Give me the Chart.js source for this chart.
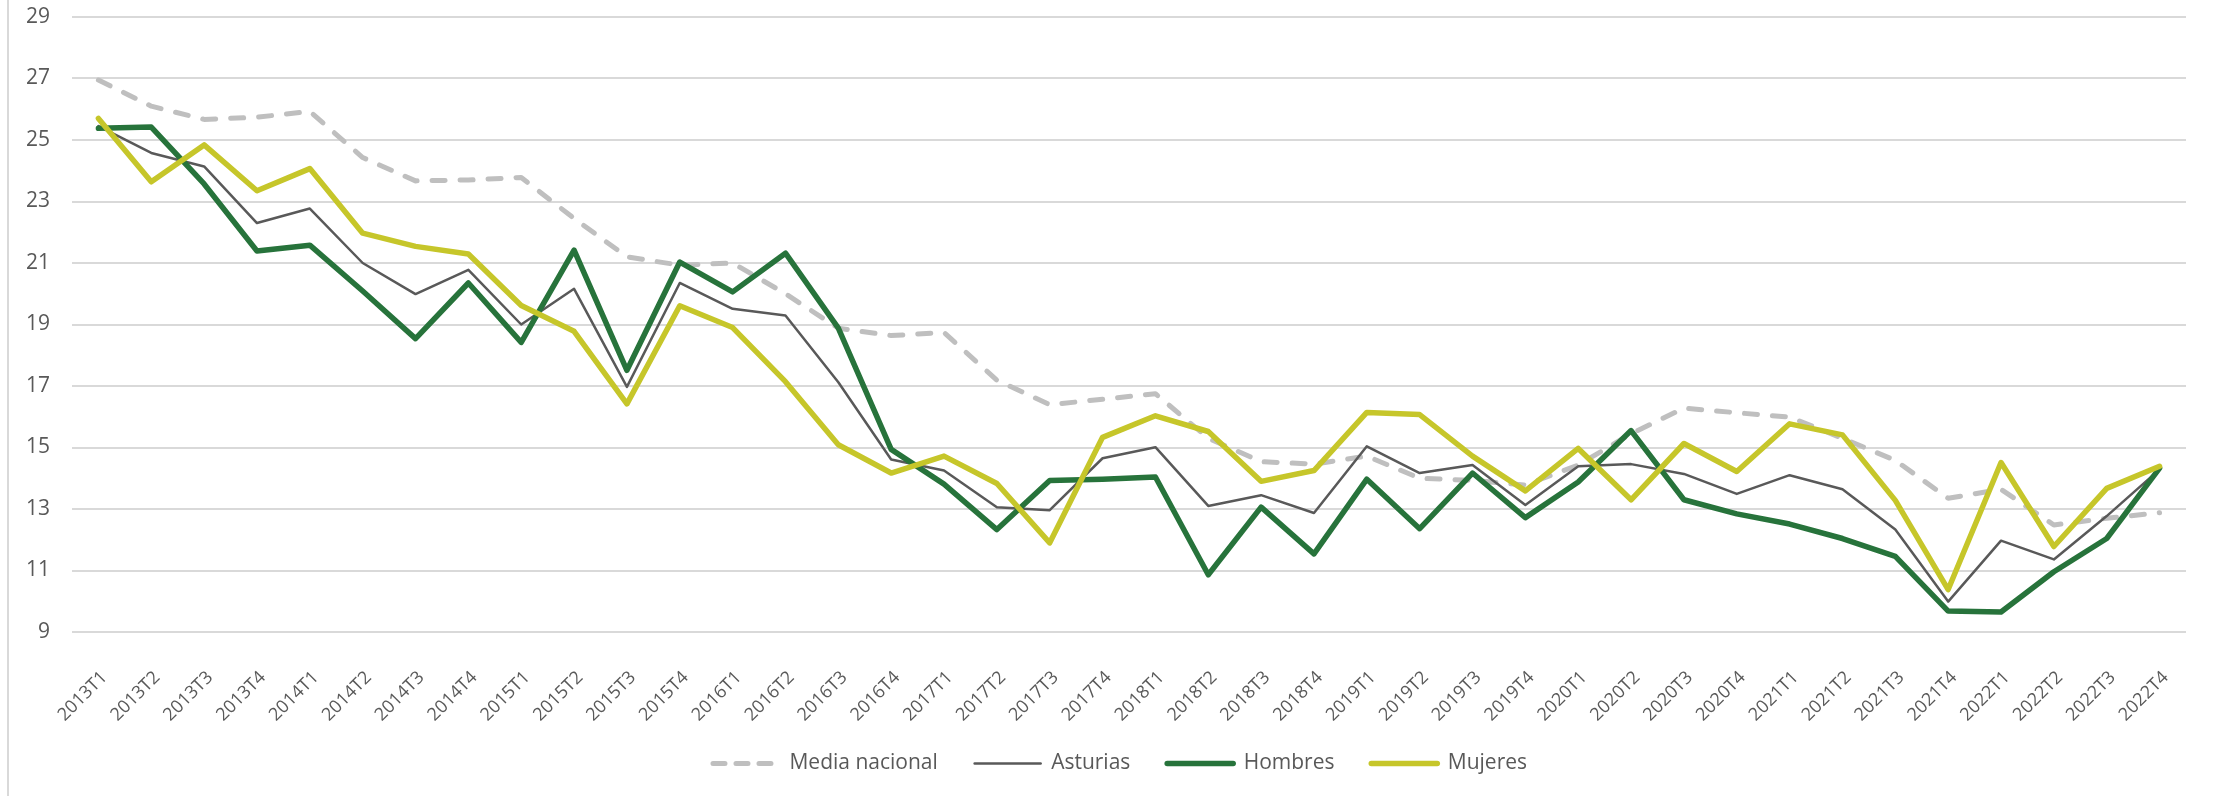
<!DOCTYPE html>
<html lang="es">
<head>
<meta charset="utf-8">
<title>Media nacional / Asturias / Hombres / Mujeres</title>
<script src="https://cdn.jsdelivr.net/npm/chart.js@4.4.1/dist/chart.umd.min.js"></script>
<style>
    html, body { margin: 0; padding: 0; background: #ffffff; }
    #wrap { position: relative; width: 2213px; height: 796px; }
    /* light frame line on the left, as in the original sheet */
    #wrap::before {
        content: ''; position: absolute; left: 7px; top: 0; bottom: 0;
        width: 2px; background: #d9d9d9;
    }
</style>
</head>
<body>
<div id="wrap"><canvas id="lineChart" width="2213" height="796"></canvas></div>
<script>
// Quarters on the x axis
const quarters = [
    '2013T1', '2013T2', '2013T3', '2013T4',
    '2014T1', '2014T2', '2014T3', '2014T4',
    '2015T1', '2015T2', '2015T3', '2015T4',
    '2016T1', '2016T2', '2016T3', '2016T4',
    '2017T1', '2017T2', '2017T3', '2017T4',
    '2018T1', '2018T2', '2018T3', '2018T4',
    '2019T1', '2019T2', '2019T3', '2019T4',
    '2020T1', '2020T2', '2020T3', '2020T4',
    '2021T1', '2021T2', '2021T3', '2021T4',
    '2022T1', '2022T2', '2022T3', '2022T4'
];

// Series values
const mediaNacional = [
    26.95, 26.10, 25.67, 25.74, 25.93, 24.43, 23.67, 23.70,
    23.78, 22.45, 21.20, 20.93, 21.00, 20.00, 18.88, 18.64,
    18.74, 17.19, 16.39, 16.57, 16.75, 15.30, 14.54, 14.46,
    14.72, 14.00, 13.93, 13.78, 14.43, 15.45, 16.28, 16.13,
    15.99, 15.30, 14.58, 13.35, 13.64, 12.48, 12.70, 12.88
];
const asturias = [
    25.45, 24.58, 24.14, 22.30, 22.77, 21.00, 19.99, 20.78,
    19.00, 20.16, 16.97, 20.35, 19.51, 19.29, 17.12, 14.61,
    14.25, 13.06, 12.96, 14.65, 15.01, 13.10, 13.45, 12.87,
    15.04, 14.17, 14.43, 13.13, 14.39, 14.46, 14.14, 13.49,
    14.10, 13.64, 12.33, 9.99, 11.97, 11.36, 12.77, 14.29
];
const hombres = [
    25.38, 25.42, 23.57, 21.39, 21.58, 20.09, 18.54, 20.35,
    18.42, 21.42, 17.51, 21.03, 20.06, 21.32, 18.88, 14.94,
    13.81, 12.33, 13.93, 13.97, 14.04, 10.86, 13.06, 11.54,
    13.97, 12.36, 14.17, 12.72, 13.88, 15.55, 13.30, 12.84,
    12.51, 12.04, 11.46, 9.68, 9.65, 10.96, 12.04, 14.33
];
const mujeres = [
    25.70, 23.64, 24.84, 23.35, 24.07, 21.97, 21.54, 21.29,
    19.62, 18.78, 16.42, 19.61, 18.90, 17.14, 15.09, 14.17,
    14.72, 13.83, 11.90, 15.33, 16.03, 15.52, 13.90, 14.25,
    16.14, 16.07, 14.72, 13.59, 14.97, 13.30, 15.13, 14.22,
    15.77, 15.41, 13.28, 10.38, 14.51, 11.78, 13.67, 14.39
];

// Y axis range
const yMin = 9;
const yMax = 29;
const yStep = 2;

const textColor = '#595959';
const gridColor = '#d9d9d9';
const fontFamily = '"Open Sans", "Noto Sans", sans-serif';

// legend dash differs a bit from the plotted one
const legendDash = { 'Media nacional': [12, 11] };

function lineSeries(label, data, color, width, dash, order) {
    return {
        label: label,
        data: data,
        borderColor: color,
        backgroundColor: color,
        borderWidth: width,
        borderDash: dash,
        borderCapStyle: 'round',
        borderJoinStyle: 'round',
        pointRadius: 0,
        pointHoverRadius: 0,
        tension: 0,
        fill: false,
        order: order // later series in the legend are drawn on top
    };
}

// Legend in the original sits a little right of the canvas centre
const legendShift = {
    id: 'legendShift',
    afterLayout(chart) {
        if (chart.legend) chart.legend.left += 54;
    }
};

const ctx = document.getElementById('lineChart').getContext('2d');

new Chart(ctx, {
    type: 'line',
    data: {
        labels: quarters,
        datasets: [
            lineSeries('Media nacional', mediaNacional, '#bfbfbf', 5, [13, 15], 4),
            lineSeries('Asturias', asturias, '#595959', 2.5, [], 3),
            lineSeries('Hombres', hombres, '#27733b', 5.5, [], 2),
            lineSeries('Mujeres', mujeres, '#c6c62a', 5.5, [], 1)
        ]
    },
    plugins: [legendShift],
    options: {
        responsive: false,
        animation: false,
        layout: {
            padding: { top: 0, right: 27, bottom: 12, left: 0 }
        },
        plugins: {
            legend: {
                position: 'bottom',
                labels: {
                    color: textColor,
                    font: { family: fontFamily, size: 21 },
                    usePointStyle: true,
                    pointStyle: 'line',
                    pointStyleWidth: 66,
                    padding: 15,
                    sort: (a, b) => a.datasetIndex - b.datasetIndex,
                    generateLabels: function(chart) {
                        const items = Chart.defaults.plugins.legend.labels.generateLabels(chart);
                        items.forEach(item => {
                            const ds = chart.data.datasets[item.datasetIndex];
                            // point style legend takes the point's style, so copy the line's
                            item.lineDash = legendDash[ds.label] || ds.borderDash;
                            item.lineCap = ds.borderCapStyle;
                            item.lineWidth = ds.borderWidth;
                            item.strokeStyle = ds.borderColor;
                            // extra room between entries (padding also sets the height)
                            if (item.datasetIndex < 3) item.text = item.text + '    ';
                        });
                        return items;
                    }
                }
            },
            tooltip: { enabled: false }
        },
        scales: {
            x: {
                offset: true,
                grid: { display: false, drawTicks: false },
                border: { display: false },
                ticks: {
                    color: textColor,
                    font: { family: fontFamily, size: 18 },
                    minRotation: 45,
                    maxRotation: 45,
                    autoSkip: false,
                    padding: 35,
                    labelOffset: 6
                },
                afterFit: function(scale) {
                    scale.height = 106;
                }
            },
            y: {
                min: yMin,
                max: yMax,
                grid: { color: gridColor, lineWidth: 2, drawTicks: false },
                border: { display: false },
                ticks: {
                    stepSize: yStep,
                    color: textColor,
                    font: { family: fontFamily, size: 21 },
                    padding: 22
                },
                afterFit: function(scale) {
                    scale.width = 72;
                    // top gridline sits close to the top edge
                    scale.paddingTop = 17;
                    scale.paddingBottom = 0;
                }
            }
        }
    }
});
</script>
</body>
</html>
